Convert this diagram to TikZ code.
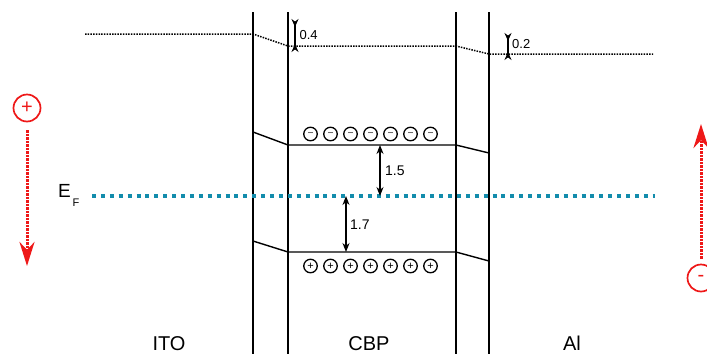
\documentclass[tikz,border=0pt]{standalone}
\usepackage{fontspec}
\setmainfont{Liberation Sans}
\usetikzlibrary{arrows.meta,positioning,calc}
\definecolor{fermiblue}{RGB}{18,140,172}
\definecolor{chargered}{RGB}{238,24,24}

\begin{document}
\begin{tikzpicture}[x=1pt,y=-1pt,
    wall/.style={line width=2.2pt},
    level/.style={line width=1.4pt},
    vac/.style={line width=1.5pt,dash pattern=on 1.5pt off 1.2pt},
    gap/.style={line width=1.4pt,{Stealth[length=9pt,width=7pt]}-{Stealth[length=9pt,width=7pt]}},
    offset/.style={line width=1.3pt,{Stealth[reversed,length=8pt,width=7pt]}-{Stealth[reversed,length=8pt,width=7pt]}},
    charge/.style={circle,draw,line width=1.3pt,minimum size=13.5pt,inner sep=0pt,font=\fontsize{11}{11}\selectfont},
    carrier/.style={circle,draw=chargered,text=chargered,line width=1.7pt,minimum size=27pt,inner sep=0pt,font=\fontsize{20}{20}\selectfont},
    hop/.style={chargered,line width=3pt,dash pattern=on 2.2pt off 1.3pt,-{Stealth[length=24pt,width=15pt]}},
    valuelabel/.style={anchor=west,inner sep=0pt,font=\fontsize{14}{14}\selectfont},
    offsetlabel/.style={anchor=west,inner sep=0pt,font=\fontsize{13}{13}\selectfont},
    layerlabel/.style={anchor=base,inner sep=0pt,font=\fontsize{20}{20}\selectfont}]
  \useasboundingbox (0,0) rectangle (707,354);
  % interfaces
  \foreach \xw in {253,288,456,489}
    \draw[wall] (\xw,12) -- (\xw,354);
  % vacuum level
  \draw[vac] (85,34) -- (253,34) -- (288,46) -- (456,46) -- (489,54) -- (653,54);
  \draw[offset] (295,19) -- (295,52) node[offsetlabel,pos=0.5,xshift=4pt] {0.4};
  \draw[offset] (508,33) -- (508,60);
  \node[offsetlabel] (offAl) at (512,44) {0.2};
  % LUMO and HOMO of CBP
  \coordinate (lumoL) at (288,145);
  \coordinate (lumoR) at (456,145);
  \coordinate (homoL) at (288,252);
  \coordinate (homoR) at (456,252);
  \draw[level] (253,132) -- (lumoL) -- (lumoR) -- (489,153);
  \draw[level] (253,241) -- (homoL) -- (homoR) -- (489,261);
  % Fermi level
  \coordinate (fermiL) at (92,196);
  \coordinate (fermiR) at (655,196);
  \draw[fermiblue,line width=4pt,dash pattern=on 4pt off 4.9pt] (fermiL) -- (fermiR);
  \node[anchor=base west,inner sep=0pt,font=\fontsize{19}{19}\selectfont] (EF) at (58,197) {E};
  \node[anchor=base west,inner sep=0pt,font=\fontsize{11}{11}\selectfont] (EFsub) at (72.5,206) {F};
  % gaps
  \coordinate (lumoTop) at (380,145);
  \coordinate (lumoBot) at (380,196);
  \coordinate (homoTop) at (346,196);
  \coordinate (homoBot) at (346,252);
  \draw[gap] (lumoTop) -- (lumoBot);
  \draw[gap] (homoTop) -- (homoBot);
  \node[valuelabel] (gapLumo) at (385,171) {1.5};
  \node[valuelabel] (gapHomo) at (350,225) {1.7};
  % electrons and holes
  \foreach \i in {0,...,6} {
    \node[charge,font=\fontsize{9}{9}\selectfont] (e\i) at (310.5+20*\i,134) {\textendash};
    \node[charge] (h\i) at (310.5+20*\i,266) {+};
  }
  % injected carriers
  \node[carrier] (plus) at (27,108) {+};
  \coordinate (plusEnd) at (27,266);
  \draw[hop,shorten <=8pt] (plus) -- (plusEnd);
  \node[carrier] (minus) at (701,278) {-};
  \coordinate (minusEnd) at (701,124);
  \draw[hop,shorten <=5pt] (minus) -- (minusEnd);
  % layers
  \node[layerlabel] (ito) at (169,350) {ITO};
  \node[layerlabel] (cbp) at (369,350) {CBP};
  \node[layerlabel] (al) at (572,350) {Al};
\end{tikzpicture}
\end{document}
